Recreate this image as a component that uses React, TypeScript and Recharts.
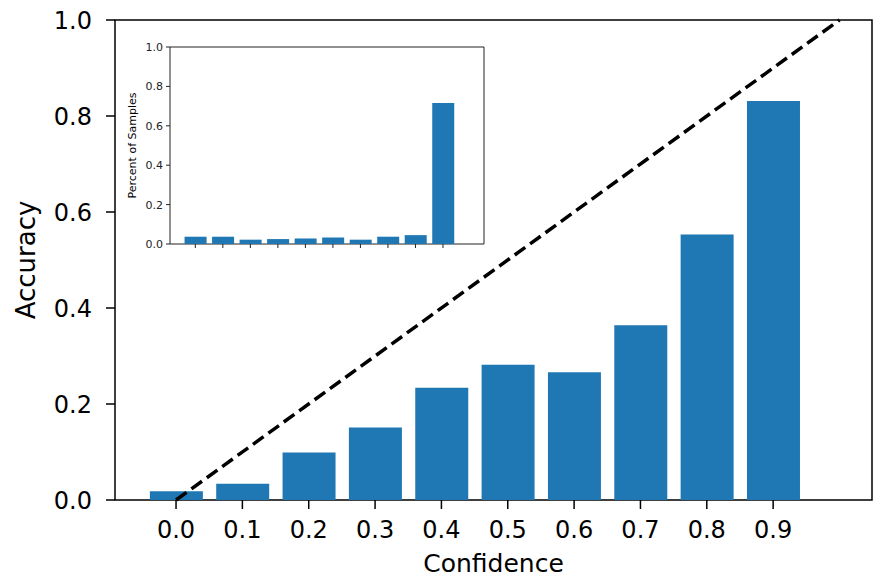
import { Bar, ComposedChart, Label, ReferenceArea, ReferenceLine, XAxis, YAxis } from "recharts";

// reliability diagram: bin confidence vs. accuracy, inset = share of samples per bin
const confidence = [0.0, 0.1, 0.2, 0.3, 0.4, 0.5, 0.6, 0.7, 0.8, 0.9];
const accuracy = [0.018, 0.034, 0.099, 0.151, 0.234, 0.282, 0.266, 0.364, 0.553, 0.831];
const samples = [0.037, 0.037, 0.022, 0.025, 0.028, 0.033, 0.022, 0.037, 0.045, 0.716];
const yTicks = [0, 0.2, 0.4, 0.6, 0.8, 1.0];
const xDomain: [number, number] = [-0.092, 1.049];

const data = confidence.map((c, i) => ({ conf: c, acc: accuracy[i], pct: samples[i] }));

const FONT = "DejaVu Sans, sans-serif";
const BLUE = "#1f77b4";
const fmt = (v: number) => v.toFixed(1);

function YLabel({ viewBox, text, dx, size }: any) {
  const x = viewBox.x + dx;
  const y = viewBox.y + viewBox.height / 2;
  return (
    <text x={x} y={y} transform={`rotate(-90, ${x}, ${y})`} textAnchor="middle" fontSize={size} fontFamily={FONT} fill="#000">
      {text}
    </text>
  );
}

function XLabel({ viewBox }: any) {
  return (
    <text x={viewBox.x + viewBox.width / 2} y={viewBox.y + 72} textAnchor="middle" fontSize={25} fontFamily={FONT} fill="#000">
      Confidence
    </text>
  );
}

export default function App() {
  return (
    <div style={{ position: "absolute", left: 0, top: 0, width: 873, height: 579, background: "#fff" }}>
      <div style={{ position: "absolute", left: 0, top: 0 }}>
        <ComposedChart width={873} height={579} data={data} margin={{ top: 20, right: 1, left: 0, bottom: 0 }}>
          <XAxis
            dataKey="conf"
            type="number"
            domain={xDomain}
            ticks={confidence}
            tickFormatter={fmt}
            height={79}
            axisLine={false}
            tickSize={9}
            tickMargin={12}
            tickLine={{ stroke: "#000", strokeWidth: 1.5 }}
            tick={{ fontSize: 24, fontFamily: FONT, fill: "#000" }}
            interval={0}
          >
            <Label content={(p: any) => <XLabel viewBox={p.viewBox} />} />
          </XAxis>
          <YAxis
            type="number"
            domain={[0, 1]}
            ticks={yTicks}
            tickFormatter={fmt}
            width={115}
            axisLine={false}
            tickSize={9}
            tickMargin={14}
            tickLine={{ stroke: "#000", strokeWidth: 1.5 }}
            tick={{ fontSize: 24, fontFamily: FONT, fill: "#000" }}
            interval={0}
          >
            <Label content={(p: any) => <YLabel viewBox={p.viewBox} text="Accuracy" dx={35} size={26} />} />
          </YAxis>
          <Bar dataKey="acc" fill={BLUE} barSize={53} isAnimationActive={false} />
          <ReferenceLine
            segment={[{ x: 0, y: 0 }, { x: 1, y: 1 }]}
            stroke="#000"
            strokeWidth={3.5}
            strokeDasharray="13 6"
          />
          <ReferenceArea x1={xDomain[0]} x2={xDomain[1]} y1={0} y2={1} fill="none" stroke="#000" strokeWidth={1.5} />
        </ComposedChart>
      </div>
      <div style={{ position: "absolute", left: 100, top: 30 }}>
        <ComposedChart width={390} height={240} data={data} margin={{ top: 17, right: 6, left: 0, bottom: 0 }}>
          <ReferenceArea x1={xDomain[0]} x2={xDomain[1]} y1={0} y2={1} fill="#fff" fillOpacity={1} stroke="none" />
          <XAxis
            dataKey="conf"
            type="number"
            domain={xDomain}
            ticks={confidence}
            tickFormatter={() => ""}
            height={26}
            axisLine={false}
            tickSize={4}
            tickLine={{ stroke: "#222", strokeWidth: 1 }}
            interval={0}
          />
          <YAxis
            type="number"
            domain={[0, 1]}
            ticks={yTicks}
            tickFormatter={fmt}
            width={70}
            axisLine={false}
            tickSize={4}
            tickMargin={3}
            tickLine={{ stroke: "#222", strokeWidth: 1 }}
            tick={{ fontSize: 11, fontFamily: FONT, fill: "#222" }}
            interval={0}
          >
            <Label content={(p: any) => <YLabel viewBox={p.viewBox} text="Percent of Samples" dx={36} size={11} />} />
          </YAxis>
          <Bar dataKey="pct" fill={BLUE} barSize={22} isAnimationActive={false} />
          <ReferenceArea x1={xDomain[0]} x2={xDomain[1]} y1={0} y2={1} fill="none" stroke="#222" strokeWidth={1} />
        </ComposedChart>
      </div>
    </div>
  );
}
